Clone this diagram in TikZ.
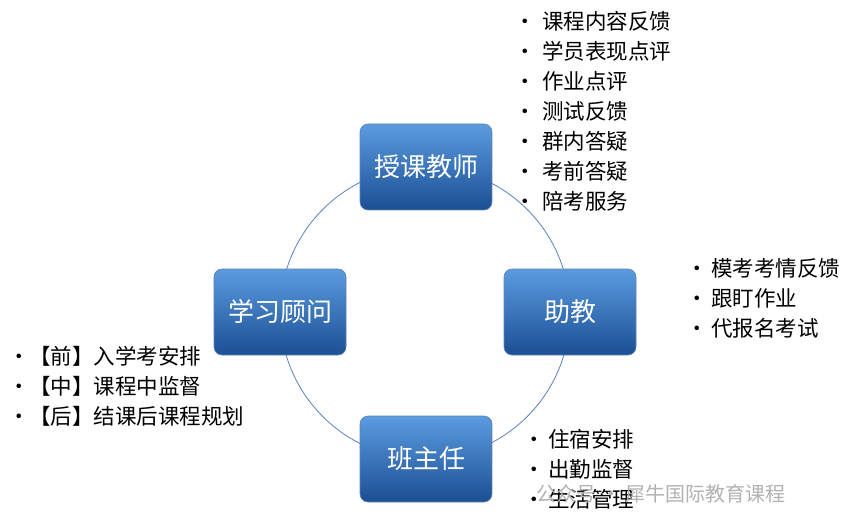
\documentclass[tikz,border=0pt]{standalone}
\usepackage{fontspec}
\newfontfamily\cjk{Noto Sans CJK SC}
\definecolor{rtop}{HTML}{5B9BE0}
\definecolor{rbot}{HTML}{1C4F94}
\definecolor{rcirc}{HTML}{5A82C0}
\begin{document}
\begin{tikzpicture}[x=1pt,y=-1pt,
  role/.style={rounded corners=8pt,minimum width=132pt,minimum height=86pt,
    top color=rtop,bottom color=rbot,
    draw=rbot!70,line width=0.6pt,text=white,font=\cjk\fontsize{26}{30}\selectfont},
  lst/.style={anchor=north west,align=left,inner sep=0pt,font=\cjk\fontsize{21.5}{30}\selectfont}]
\useasboundingbox (0,0) rectangle (856,529);
\fill[white] (0,0) rectangle (856,529);
\draw[draw=rcirc,line width=0.8pt] (425,313) ellipse (145pt and 146pt);
\node[role] (t) at (426,167) {授课教师};
\node[role] (r) at (570,312) {助教};
\node[role] (l) at (280,312) {学习顾问};
\node[role] (b) at (426,459) {班主任};
\newcommand{\bl}[1]{\makebox[28pt][l]{•}#1}
\node[lst] (lt) at (514,11) {\bl{课程内容反馈}\\\bl{学员表现点评}\\\bl{作业点评}\\\bl{测试反馈}\\\bl{群内答疑}\\\bl{考前答疑}\\\bl{陪考服务}};
\node[lst] (lr) at (686,258) {\makebox[25pt][l]{•}模考考情反馈\\\makebox[25pt][l]{•}跟盯作业\\\makebox[25pt][l]{•}代报名考试};
\node[lst] (ll) at (8,346) {\makebox[21pt][l]{•}【前】入学考安排\\\makebox[21pt][l]{•}【中】课程中监督\\\makebox[21pt][l]{•}【后】结课后课程规划};
\node[lst] (lb) at (523,429) {\makebox[25pt][l]{•}住宿安排\\\makebox[25pt][l]{•}出勤监督\\\makebox[25pt][l]{•}生活管理};
\node[anchor=west,text=gray!60,font=\cjk\fontsize{20}{22}\selectfont] (wm) at (533,494) {公众号 · 犀牛国际教育课程};
\end{tikzpicture}
\end{document}
